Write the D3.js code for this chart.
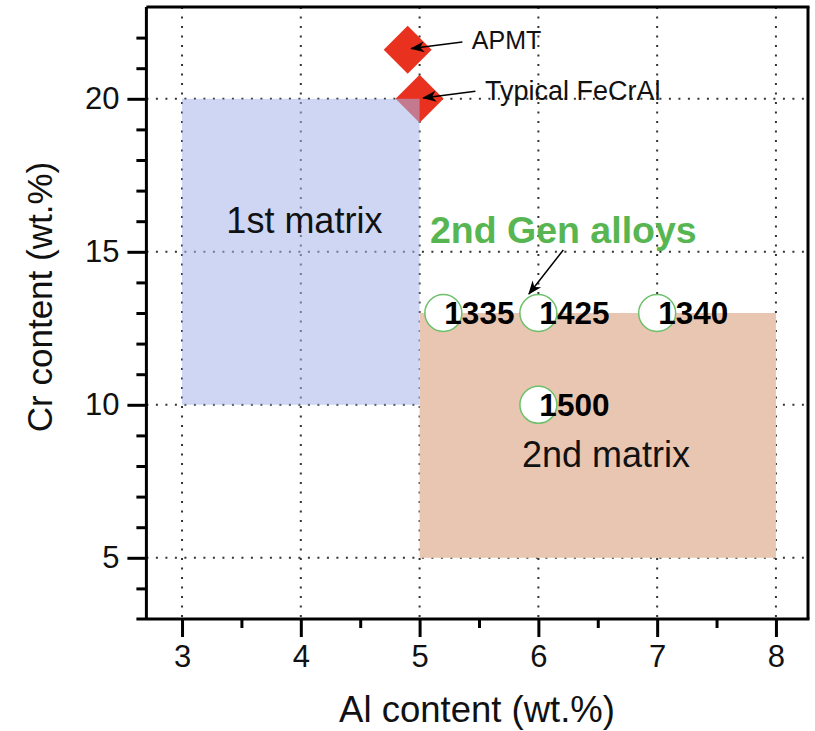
<!DOCTYPE html>
<html>
<head>
<meta charset="utf-8">
<script src="https://cdn.jsdelivr.net/npm/d3@7"></script>
<style>
  html, body { margin: 0; padding: 0; background: #fff; }
  svg { display: block; font-family: "Liberation Sans", Arial, Helvetica, sans-serif; }
</style>
</head>
<body>
<svg id="chart" width="815" height="731"></svg>
<script>
// ---- data ----
const xTicks = [3, 4, 5, 6, 7, 8];
const xMinorTicks = [3.5, 4.5, 5.5, 6.5, 7.5];
const yTicks = [5, 10, 15, 20];
const yMinorTicks = [4, 6, 7, 8, 9, 11, 12, 13, 14, 16, 17, 18, 19, 21, 22];

const matrixNames = ["1st matrix", "2nd matrix"];
const matrixAlMin = [3, 5];
const matrixAlMax = [5, 8];
const matrixCrMin = [10, 5];
const matrixCrMax = [20, 13];
const matrixLabelAl = [4.03, 6.57];
const matrixLabelCr = [15.6, 7.97];

const refNames = ["APMT", "Typical FeCrAl"];
const refAl = [4.9, 5.0];
const refCr = [21.6, 20.0];
const refLabelAl = [5.44, 5.55];
const refLabelCr = [21.62, 19.97];
const refLabelSize = [25, 27];
const refArrowFromAl = [5.36, 5.47];
const refArrowFromCr = [21.86, 20.25];
const refArrowToAl = [4.93, 5.03];
const refArrowToCr = [21.64, 20.03];

const alloyNames = ["1335", "1425", "1340", "1500"];
const alloyAl = [5.2, 6, 7, 6];
const alloyCr = [13, 13, 13, 10];

const genLabel = "2nd Gen alloys";
const genLabelAl = 6.21;
const genLabelCr = 15.29;
const genArrowFrom = [6.21, 15.06];
const genArrowTo = [5.92, 13.62];

// ---- layout ----
const svg = d3.select("#chart");
const pLeft = 146.4, pRight = 808, pTop = 7, pBottom = 619;
const x = d3.scaleLinear().domain([2.7, 8.27]).range([pLeft, pRight]);
const y = d3.scaleLinear().domain([3, 23]).range([pBottom, pTop]);

const defs = svg.append("defs");
defs.append("marker")
  .attr("id", "arrow")
  .attr("viewBox", "0 -6 14 12")
  .attr("refX", 13).attr("refY", 0)
  .attr("markerWidth", 14).attr("markerHeight", 12)
  .attr("markerUnits", "userSpaceOnUse")
  .attr("orient", "auto")
  .append("path")
  .attr("d", "M0,-5.5 L14,0 L0,5.5 L4,0 Z")
  .attr("fill", "#000");

// grid
const grid = svg.append("g");
grid.selectAll("line.gx").data(xTicks).join("line")
  .attr("x1", d => x(d)).attr("x2", d => x(d))
  .attr("y1", pTop).attr("y2", pBottom)
  .attr("stroke", "#333").attr("stroke-width", 2)
  .attr("stroke-dasharray", "2,7.5");
grid.selectAll("line.gy").data(yTicks).join("line")
  .attr("y1", d => y(d)).attr("y2", d => y(d))
  .attr("x1", pLeft).attr("x2", pRight)
  .attr("stroke", "#333").attr("stroke-width", 2)
  .attr("stroke-dasharray", "2,7.5");

// reference alloys (diamonds)
const dsz = 24;
svg.append("g").selectAll("path").data(refNames).join("path")
  .attr("d", (d, i) => {
    const cx = x(refAl[i]), cy = y(refCr[i]);
    return `M${cx},${cy - dsz} L${cx + dsz},${cy} L${cx},${cy + dsz} L${cx - dsz},${cy} Z`;
  })
  .attr("fill", "#e8321f");

// matrices
const colors = ["rgba(165,180,235,0.55)", "#e9c6b2"];
svg.append("g").selectAll("rect").data(matrixNames).join("rect")
  .attr("x", (d, i) => x(matrixAlMin[i]))
  .attr("y", (d, i) => y(matrixCrMax[i]))
  .attr("width", (d, i) => x(matrixAlMax[i]) - x(matrixAlMin[i]))
  .attr("height", (d, i) => y(matrixCrMin[i]) - y(matrixCrMax[i]))
  .attr("fill", (d, i) => colors[i]);

svg.append("g").selectAll("text").data(matrixNames).join("text")
  .attr("x", (d, i) => x(matrixLabelAl[i]))
  .attr("y", (d, i) => y(matrixLabelCr[i]))
  .attr("text-anchor", "middle")
  .attr("font-size", 36)
  .attr("fill", "#111")
  .text(d => d);

// reference labels + arrows
svg.append("g").selectAll("line").data(refNames).join("line")
  .attr("x1", (d, i) => x(refArrowFromAl[i])).attr("y1", (d, i) => y(refArrowFromCr[i]))
  .attr("x2", (d, i) => x(refArrowToAl[i])).attr("y2", (d, i) => y(refArrowToCr[i]))
  .attr("stroke", "#000").attr("stroke-width", 1.5)
  .attr("marker-end", "url(#arrow)");
svg.append("g").selectAll("text").data(refNames).join("text")
  .attr("x", (d, i) => x(refLabelAl[i]))
  .attr("y", (d, i) => y(refLabelCr[i]))
  .attr("font-size", (d, i) => refLabelSize[i])
  .attr("fill", "#111")
  .text(d => d);

// 2nd gen alloys
svg.append("g").selectAll("circle").data(alloyNames).join("circle")
  .attr("cx", (d, i) => x(alloyAl[i]))
  .attr("cy", (d, i) => y(alloyCr[i]))
  .attr("r", 18.5)
  .attr("fill", "#fff")
  .attr("stroke", "#6cc06a")
  .attr("stroke-width", 1.5);
svg.append("g").selectAll("text").data(alloyNames).join("text")
  .attr("x", (d, i) => x(alloyAl[i]) + 1)
  .attr("y", (d, i) => y(alloyCr[i]) + 11)
  .attr("font-size", 31.5)
  .attr("font-weight", "bold")
  .attr("fill", "#000")
  .text(d => d);

svg.append("text")
  .attr("x", x(genLabelAl)).attr("y", y(genLabelCr))
  .attr("text-anchor", "middle")
  .attr("font-size", 37.5).attr("font-weight", "bold")
  .attr("fill", "#57b651")
  .text(genLabel);
svg.append("line")
  .attr("x1", x(genArrowFrom[0])).attr("y1", y(genArrowFrom[1]))
  .attr("x2", x(genArrowTo[0])).attr("y2", y(genArrowTo[1]))
  .attr("stroke", "#000").attr("stroke-width", 1.5)
  .attr("marker-end", "url(#arrow)");

// frame (top, right)
svg.append("line").attr("x1", pLeft).attr("x2", pRight + 1.5).attr("y1", pTop).attr("y2", pTop)
  .attr("stroke", "#000").attr("stroke-width", 3);
svg.append("line").attr("x1", pRight).attr("x2", pRight).attr("y1", pTop).attr("y2", pBottom)
  .attr("stroke", "#000").attr("stroke-width", 3);

// axes
const xAxis = svg.append("g").attr("transform", `translate(0,${pBottom})`)
  .call(d3.axisBottom(x).tickValues(xTicks).tickSize(18).tickPadding(8).tickFormat(d3.format("d")));
const xMinor = svg.append("g").attr("transform", `translate(0,${pBottom})`)
  .call(d3.axisBottom(x).tickValues(xMinorTicks).tickSize(9).tickFormat(""));
const yAxis = svg.append("g").attr("transform", `translate(${pLeft},0)`)
  .call(d3.axisLeft(y).tickValues(yTicks).tickSize(19).tickPadding(8).tickFormat(d3.format("d")));
const yMinor = svg.append("g").attr("transform", `translate(${pLeft},0)`)
  .call(d3.axisLeft(y).tickValues(yMinorTicks).tickSize(10).tickFormat(""));

[xAxis, xMinor, yAxis, yMinor].forEach(g => {
  g.select(".domain").attr("stroke", "#000").attr("stroke-width", 3);
  g.selectAll(".tick line").attr("stroke", "#000").attr("stroke-width", 3);
  g.selectAll("text").attr("font-size", 31).attr("fill", "#111")
    .attr("font-family", "'Liberation Sans', Arial, sans-serif");
});
xMinor.select(".domain").remove();
yMinor.select(".domain").remove();
xAxis.select(".domain").attr("d", `M${pLeft - 10},0H${pRight + 1.5}`);
yAxis.select(".domain").attr("d", `M0,${pBottom}V${pTop}`);

// axis titles
svg.append("text")
  .attr("x", 477).attr("y", 722)
  .attr("text-anchor", "middle").attr("font-size", 36.5).attr("fill", "#111")
  .text("Al content (wt.%)");
svg.append("text")
  .attr("transform", `translate(52,297) rotate(-90)`)
  .attr("text-anchor", "middle").attr("font-size", 35).attr("fill", "#111")
  .text("Cr content (wt.%)");
</script>
</body>
</html>
